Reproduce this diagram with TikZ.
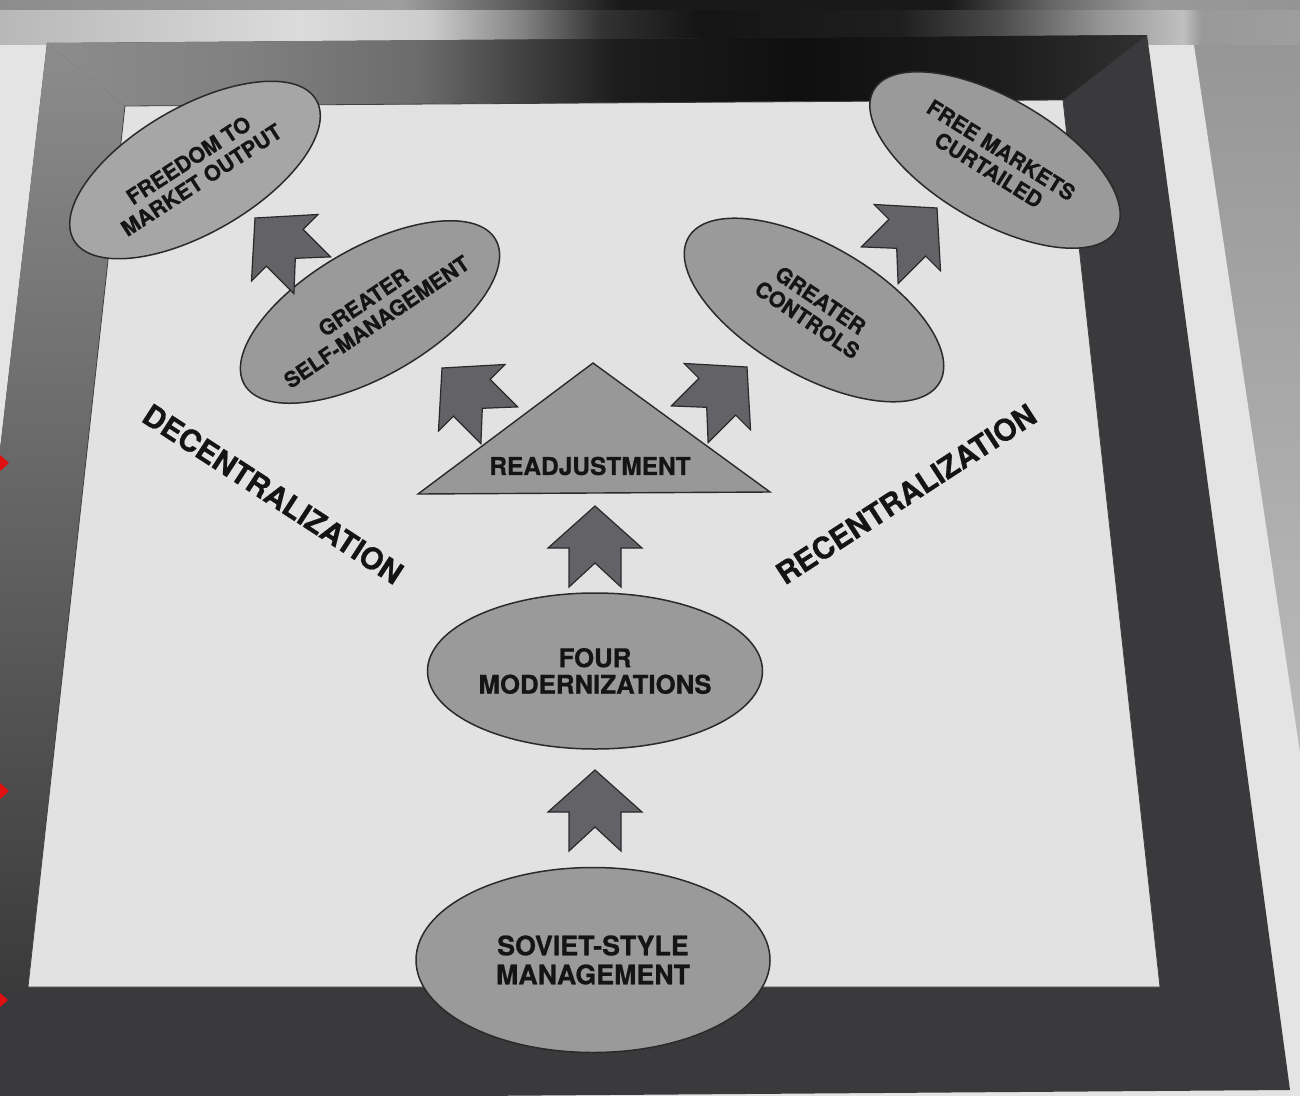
\documentclass[tikz,border=0pt]{standalone}
\usepackage{fontspec}
\setmainfont{TeX Gyre Heros}[BoldFeatures={FakeBold=0.7}]
\usetikzlibrary{shapes.geometric}
\definecolor{framec}{HTML}{3A3A3D}
\definecolor{innerc}{HTML}{E2E2E2}
\definecolor{paperc}{HTML}{E4E4E4}
\definecolor{ellc}{HTML}{9A9A9A}
\definecolor{ellc2}{HTML}{A6A6A6}
\definecolor{tric}{HTML}{989898}
\definecolor{arrc}{HTML}{636367}
\definecolor{edgec}{HTML}{2A2A2A}
\definecolor{inkc}{HTML}{141414}
\definecolor{markc}{HTML}{E01010}
\pgfdeclarehorizontalshading{topbarsh}{100bp}{color(0bp)=(black!45); color(25bp)=(black!45); color(34.2bp)=(black!50); color(42bp)=(black!58); color(46.5bp)=(black!74); color(51bp)=(black!89); color(59.2bp)=(black!94); color(68.3bp)=(black!89); color(75bp)=(black!81); color(100bp)=(black!81)}
\pgfdeclarehorizontalshading{topstripsh}{100bp}{color(0bp)=(black!28); color(25bp)=(black!28); color(36.5bp)=(black!14); color(41.5bp)=(black!20); color(45bp)=(black!48); color(48.1bp)=(black!80); color(51.9bp)=(black!92); color(59.6bp)=(black!88); color(63.5bp)=(black!70); color(67.3bp)=(black!42); color(70.5bp)=(black!25); color(71.2bp)=(black!40); color(75bp)=(black!38); color(100bp)=(black!38)}
\pgfdeclarehorizontalshading{topbgsh}{100bp}{color(0bp)=(black!45); color(25bp)=(black!45); color(40.4bp)=(black!38); color(45bp)=(black!65); color(48.8bp)=(black!90); color(61.5bp)=(black!90); color(65.4bp)=(black!60); color(69.2bp)=(black!40); color(75bp)=(black!42); color(100bp)=(black!42)}
\tikzset{
  ell/.style={ellipse, draw=edgec, line width=1.5pt, fill=ellc, inner sep=0pt},
  lbl/.style={text=inkc, align=center, inner sep=0pt},
  smallfont/.style={font=\fontsize{21.5}{23.5}\selectfont\bfseries},
  tri/.style={draw=edgec, line width=1.4pt, fill=tric, line join=miter},
  blockarrow/.pic={\draw[draw=edgec, fill=arrc, line width=1.2pt, line join=miter]
     (0,0) -- (47,42) -- (26,42) -- (26,81) -- (0,57) -- (-26,81) -- (-26,42) -- (-47,42) -- cycle;}
}
\begin{document}
\begin{tikzpicture}[x=1pt,y=-1pt]
\useasboundingbox (0,0) rectangle (1300,1095);
\clip (0,0) rectangle (1300,1095);
% background and paper
\shade[top color=black!42, bottom color=black!20] (0,0) rectangle (1300,1095);
\fill[paperc] (3,12) -- (1188,5) -- (1352,1100) -- (-120,1100) -- cycle;
\shade[shading=topbgsh] (0,0) rectangle (1300,10);
\shade[shading=topstripsh] (0,10) rectangle (1300,44);
% frame
\fill[framec] (47,43) -- (1147,35) -- (1290,1090) -- (-75,1100) -- cycle;
\shade[shading=topbarsh] (47,43) -- (1147,35) -- (1063,100) -- (125,106) -- cycle;
\shade[top color=black!45, middle color=black!62, bottom color=black!77] (47,43) -- (125,106) -- (28,987) -- (-62,987) -- cycle;
\filldraw[fill=innerc, draw=black!75, line width=0.8pt] (125,106) -- (1063,100) -- (1160,987) -- (28,987) -- cycle;
% red marks
\fill[markc] (0,455) -- (9,463) -- (0,471) -- cycle;
\fill[markc] (0,783) -- (9,791) -- (0,799) -- cycle;
\fill[markc] (0,993) -- (8,1000) -- (0,1007) -- cycle;
% ellipses
\node[ell, fill=ellc2, minimum width=280pt, minimum height=126pt, rotate=30] (freedom) at (195,170) {};
\node[ell, minimum width=290pt, minimum height=128pt, rotate=30] (selfm) at (370,312) {};
\node[ell, minimum width=280pt, minimum height=124pt, rotate=-30] (freem) at (995,160) {};
\node[ell, minimum width=290pt, minimum height=130pt, rotate=-30] (ctrl) at (814,310) {};
\node[ell, minimum width=335pt, minimum height=156pt] (four) at (595,671) {};
\node[ell, minimum width=354pt, minimum height=185pt] (soviet) at (593,960) {};
% triangle
\coordinate (tl) at (418,494);
\coordinate (ta) at (593,363);
\coordinate (tr) at (770,492);
\draw[tri] (tl) -- (ta) -- (tr) -- cycle;
% labels
\node[lbl, smallfont, rotate=33] at (freedom.center) {FREEDOM TO\\MARKET OUTPUT};
\node[lbl, smallfont, rotate=34] at (selfm.center) {GREATER\\SELF-MANAGEMENT};
\node[lbl, smallfont, rotate=-32] at (freem.center) {FREE MARKETS\\CURTAILED};
\node[lbl, smallfont, rotate=-34] at (ctrl.center) {GREATER\\CONTROLS};
\node[lbl, font=\fontsize{25.8}{26.5}\selectfont\bfseries] at (four.center) {FOUR\\MODERNIZATIONS};
\node[lbl, font=\fontsize{26.8}{29}\selectfont\bfseries] at (soviet.center) {SOVIET-STYLE\\MANAGEMENT};
\node[lbl, font=\fontsize{24.5}{25}\selectfont\bfseries] (readj) at (590,466) {READJUSTMENT};
\node[lbl, font=\fontsize{30}{30}\selectfont\bfseries, rotate=-33] (decen) at (273,494) {DECENTRALIZATION};
\node[lbl, font=\fontsize{30}{30}\selectfont\bfseries, rotate=33] (recen) at (906,494) {RECENTRALIZATION};
% block arrows
\coordinate (a1) at (595,770);
\coordinate (a2) at (595,506);
\coordinate (a3) at (442,368);
\coordinate (a4) at (747,367);
\coordinate (a5) at (255,218);
\coordinate (a6) at (937,208);
\pic at (a1) {blockarrow};
\pic at (a2) {blockarrow};
\pic[rotate=45] at (a3) {blockarrow};
\pic[rotate=-45] at (a4) {blockarrow};
\pic[rotate=45] at (a5) {blockarrow};
\pic[rotate=-45] at (a6) {blockarrow};
\end{tikzpicture}
\end{document}
